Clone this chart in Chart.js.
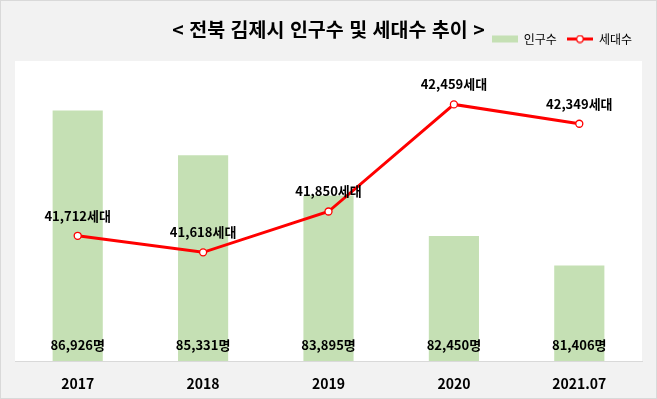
<!DOCTYPE html>
<html lang="ko">
<head>
    <meta charset="UTF-8">
    <title>전북 김제시 인구수 및 세대수 추이</title>
    <script src="https://cdn.jsdelivr.net/npm/chart.js"></script>
    <style>
        html, body { margin: 0; padding: 0; }
        body { width: 657px; height: 399px; overflow: hidden; background: #f2f2f2; }
        #wrap { position: relative; box-sizing: border-box; width: 657px; height: 399px; border: 1px solid #d9d9d9; }
        #title { position: absolute; left: 0; right: 0; top: 16px; text-align: center;
                 font: bold 19.5px "Noto Sans CJK KR"; line-height: 24px; color: #000; }
        canvas { display: block; }
    </style>
</head>
<body>
<div id="wrap">
    <canvas id="chart" width="655" height="397"></canvas>
    <div id="title">&lt; 전북 김제시 인구수 및 세대수 추이 &gt;</div>
</div>
<script>
    const years = ["2017", "2018", "2019", "2020", "2021.07"];
    const population = [86926, 85331, 83895, 82450, 81406];
    const households = [41712, 41618, 41850, 42459, 42349];

    const barColor = "#c5e0b4";
    const lineColor = "#ff0000";
    const fmt = n => n.toLocaleString("en-US");

    // legend icons (excel style: flat bar swatch, line with hollow marker)
    function makeIcon(kind) {
        const c = document.createElement("canvas");
        c.width = 26; c.height = 9;
        const g = c.getContext("2d");
        if (kind === "bar") {
            g.fillStyle = barColor;
            g.fillRect(0, 1, 26, 7);
        } else {
            g.strokeStyle = lineColor;
            g.lineWidth = 3;
            g.beginPath(); g.moveTo(0, 4.5); g.lineTo(26, 4.5); g.stroke();
            g.beginPath(); g.arc(13, 4.5, 3.3, 0, Math.PI * 2);
            g.fillStyle = "#fff"; g.fill();
            g.lineWidth = 1.3; g.stroke();
        }
        return c;
    }
    const barIcon = makeIcon("bar");
    const lineIcon = makeIcon("line");

    const plotBg = {
        id: "plotBg",
        beforeDraw(chart) {
            const a = chart.chartArea, ctx = chart.ctx;
            ctx.save();
            ctx.fillStyle = "#fff";
            ctx.fillRect(a.left, a.top + 6, a.right - a.left, a.bottom - a.top - 6);
            ctx.restore();
        }
    };

    const valueLabels = {
        id: "valueLabels",
        afterDatasetsDraw(chart) {
            const ctx = chart.ctx;
            ctx.save();
            ctx.font = 'bold 13px "Noto Sans CJK KR"';
            ctx.fillStyle = "#000";
            ctx.textAlign = "center";
            ctx.textBaseline = "middle";
            chart.getDatasetMeta(0).data.forEach((bar, i) => {
                ctx.fillText(fmt(population[i]) + "명", bar.x, chart.chartArea.bottom - 16);
            });
            chart.getDatasetMeta(1).data.forEach((pt, i) => {
                ctx.fillText(fmt(households[i]) + "세대", pt.x, pt.y - 20);
            });
            ctx.restore();
        }
    };

    new Chart(document.getElementById("chart"), {
        type: "bar",
        data: {
            labels: years,
            datasets: [
                {
                    label: "인구수",
                    data: population,
                    backgroundColor: barColor,
                    barPercentage: 0.4,
                    categoryPercentage: 1,
                    yAxisID: "y",
                    order: 2
                },
                {
                    type: "line",
                    label: "세대수",
                    data: households,
                    borderColor: lineColor,
                    borderWidth: 3,
                    pointRadius: 3.5,
                    pointBackgroundColor: "#fff",
                    pointBorderColor: lineColor,
                    pointBorderWidth: 1.3,
                    tension: 0,
                    yAxisID: "y1",
                    order: 1
                }
            ]
        },
        options: {
            responsive: false,
            animation: false,
            layout: { padding: { left: 14, right: 14, top: 22, bottom: 0 } },
            plugins: {
                tooltip: { enabled: false },
                legend: {
                    position: "top",
                    align: "end",
                    labels: {
                        usePointStyle: true,
                        pointStyleWidth: 26,
                        padding: 10,
                        color: "#595959",
                        font: { family: "Noto Sans CJK KR", size: 12 },
                        generateLabels: () => [
                            { text: "인구수", pointStyle: barIcon, fillStyle: barColor, strokeStyle: barColor, lineWidth: 0, datasetIndex: 0, hidden: false },
                            { text: "세대수", pointStyle: lineIcon, fillStyle: lineColor, strokeStyle: lineColor, lineWidth: 0, datasetIndex: 1, hidden: false }
                        ]
                    }
                }
            },
            scales: {
                x: {
                    grid: { display: false, drawTicks: false },
                    border: { color: "#d9d9d9" },
                    ticks: { color: "#000", padding: 14, font: { family: "Noto Sans CJK KR", size: 14, weight: "bold" } },
                    afterFit: scale => { scale.height = 37; }
                },
                y: { display: false, min: 78000, max: 88900 },
                y1: { display: false, min: 41000, max: 42740 }
            }
        },
        plugins: [plotBg, valueLabels]
    });
</script>
</body>
</html>
